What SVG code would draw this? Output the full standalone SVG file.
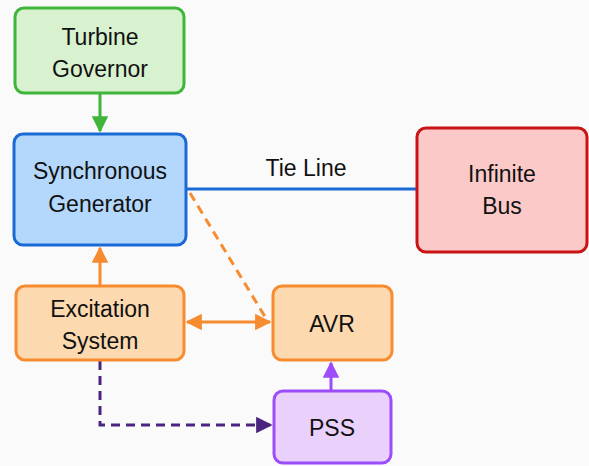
<svg xmlns="http://www.w3.org/2000/svg" width="589" height="466" viewBox="0 0 589 466">
<style>
text{font-family:"Liberation Sans",Arial,sans-serif;font-size:23px;fill:#111;text-anchor:middle}
.n{stroke-width:3}
</style>
<defs>
<marker id="ag" viewBox="0 0 10 10" refX="9" refY="5" markerWidth="5.5" markerHeight="5.5" orient="auto-start-reverse"><path d="M0,0L10,5L0,10z" fill="#3fb53a"/></marker>
<marker id="ao" viewBox="0 0 10 10" refX="9" refY="5" markerWidth="5.5" markerHeight="5.5" orient="auto-start-reverse"><path d="M0,0L10,5L0,10z" fill="#f68b2f"/></marker>
<marker id="ap" viewBox="0 0 10 10" refX="9" refY="5" markerWidth="5.5" markerHeight="5.5" orient="auto-start-reverse"><path d="M0,0L10,5L0,10z" fill="#9b4dfa"/></marker>
<marker id="ad" viewBox="0 0 10 10" refX="9" refY="5" markerWidth="5.5" markerHeight="5.5" orient="auto-start-reverse"><path d="M0,0L10,5L0,10z" fill="#4b2480"/></marker>
</defs>
<rect width="589" height="466" fill="#fafafa"/>
<g id="connectors" fill="none" stroke-width="3">
<line x1="100" y1="93" x2="100" y2="131" stroke="#3fb53a" marker-end="url(#ag)"/>
<line x1="187" y1="189" x2="416" y2="189" stroke="#1a6ad6"/>
<text x="306" y="176" stroke="none">Tie Line</text>
<line x1="100" y1="285" x2="100" y2="248" stroke="#f68b2f" marker-end="url(#ao)"/>
<line x1="187" y1="322" x2="270" y2="322" stroke="#f68b2f" marker-start="url(#ao)" marker-end="url(#ao)"/>
<line x1="190" y1="193" x2="267" y2="320" stroke="#f68b2f" stroke-dasharray="9,6"/>
<line x1="331" y1="390" x2="331" y2="363" stroke="#9b4dfa" marker-end="url(#ap)"/>
<polyline points="100,361 100,425 271,425" stroke="#4b2480" stroke-dasharray="9,6" marker-end="url(#ad)"/>
</g>
<g id="turbine"><rect class="n" x="15" y="8" width="169" height="85" rx="9" fill="#d8f2cf" stroke="#3fb53a"/><text x="100" y="45">Turbine</text><text x="100" y="77">Governor</text></g>
<g id="generator"><rect class="n" x="14" y="134" width="172" height="111" rx="9" fill="#b3d8fb" stroke="#1a6ad6"/><text x="100" y="179">Synchronous</text><text x="100" y="212">Generator</text></g>
<g id="bus"><rect class="n" x="417" y="128" width="170" height="124" rx="9" fill="#fcc9c9" stroke="#c81414"/><text x="502" y="182">Infinite</text><text x="502" y="214">Bus</text></g>
<g id="excitation"><rect class="n" x="16" y="286" width="168" height="74" rx="9" fill="#fcd9ae" stroke="#f68b2f"/><text x="100" y="317">Excitation</text><text x="100" y="349">System</text></g>
<g id="avr"><rect class="n" x="273" y="286" width="119" height="74" rx="9" fill="#fcd9ae" stroke="#f68b2f"/><text x="332" y="332">AVR</text></g>
<g id="pss"><rect class="n" x="274" y="391" width="117" height="72" rx="9" fill="#ead1fb" stroke="#9b4dfa"/><text x="332" y="436">PSS</text></g>
</svg>
